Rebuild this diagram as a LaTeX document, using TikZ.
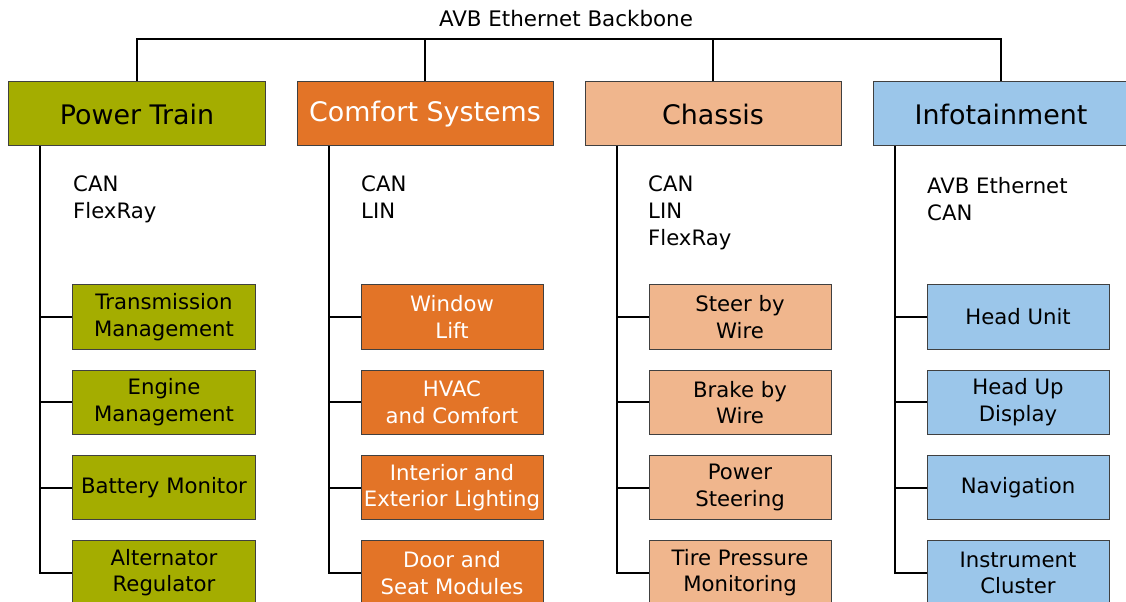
\documentclass[tikz,border=0pt]{standalone}
\usepackage{fontspec}
\setmainfont{DejaVu Sans}
\usetikzlibrary{positioning, calc}
\definecolor{ptgreen}{HTML}{A4AD00}
\definecolor{csorange}{HTML}{E37427}
\definecolor{chpeach}{HTML}{F0B68D}
\definecolor{infblue}{HTML}{9BC6EA}
\definecolor{boxgray}{HTML}{404040}

\begin{document}
\begin{tikzpicture}[
    x=1bp, y=-1bp,
    topbox/.style={
        draw=boxgray, rectangle, inner sep=0pt, line width=1bp,
        minimum width=256bp, minimum height=64bp,
        font=\fontsize{27}{32}\selectfont
    },
    subbox/.style={
        draw=boxgray, rectangle, inner sep=0pt, align=center, line width=1bp,
        minimum width=182bp, minimum height=64bp,
        font=\fontsize{21.3}{26.5}\selectfont
    },
    buslabel/.style={anchor=north west, align=left, inner sep=0pt,
        font=\fontsize{21.3}{27}\selectfont},
    wire/.style={line width=2bp},
    node distance=20.3bp and 31bp,
]
\clip (0,0) rectangle (1126,602);

\node[font=\fontsize{21.5}{25}\selectfont] (title) at (566,19) {AVB Ethernet Backbone};

% domain boxes
\node[topbox, fill=ptgreen] (pt) at (137,114) {Power Train};
\node[topbox, fill=csorange, text=white, right=of pt] (cs) {Comfort Systems};
\node[topbox, fill=chpeach, right=of cs] (ch) {Chassis};
\node[topbox, fill=infblue, right=of ch] (inf) {Infotainment};

% bus labels
\node[buslabel] (ptbus) at (73,176) {CAN\\FlexRay};
\node[buslabel] (csbus) at (361,176) {CAN\\LIN};
\node[buslabel] (chbus) at (648,176) {CAN\\LIN\\FlexRay};
\node[buslabel] (infbus) at (927,177) {AVB Ethernet\\CAN};

% ECUs
\node[subbox, fill=ptgreen] (tm) at (164,317) {Transmission\\Management};
\node[subbox, fill=ptgreen, below=of tm] (em) {Engine\\Management};
\node[subbox, fill=ptgreen, below=of em] (bm) {Battery Monitor};
\node[subbox, fill=ptgreen, below=of bm] (ar) {Alternator\\Regulator};

\node[subbox, fill=csorange, text=white] (wl) at (452,317) {Window\\Lift};
\node[subbox, fill=csorange, text=white, below=of wl] (hv) {HVAC\\and Comfort};
\node[subbox, fill=csorange, text=white, below=of hv] (il) {Interior and\\Exterior Lighting};
\node[subbox, fill=csorange, text=white, below=of il] (ds) {Door and\\Seat Modules};

\node[subbox, fill=chpeach] (sw) at (740,317) {Steer by\\Wire};
\node[subbox, fill=chpeach, below=of sw] (bw) {Brake by\\Wire};
\node[subbox, fill=chpeach, below=of bw] (ps) {Power\\Steering};
\node[subbox, fill=chpeach, below=of ps] (tp) {Tire Pressure\\Monitoring};

\node[subbox, fill=infblue] (hu) at (1018,317) {Head Unit};
\node[subbox, fill=infblue, below=of hu] (hd) {Head Up\\Display};
\node[subbox, fill=infblue, below=of hd] (nav) {Navigation};
\node[subbox, fill=infblue, below=of nav] (ic) {Instrument\\Cluster};

% backbone
\coordinate (bb) at (566,39);
\draw[wire] (pt.north) |- (bb) -| (inf.north);
\draw[wire] (cs.north) -- (cs.north |- bb);
\draw[wire] (ch.north) -- (ch.north |- bb);

% trunks and branches
\coordinate (pttr) at ($(pt.south west)+(32,0)$);
\coordinate (cstr) at ($(cs.south west)+(32,0)$);
\coordinate (chtr) at ($(ch.south west)+(32,0)$);
\coordinate (inftr) at ($(inf.south west)+(22,0)$);
\draw[wire] (pttr) |- (ar.west) (tm.west -| pttr) -- (tm.west)
    (em.west -| pttr) -- (em.west) (bm.west -| pttr) -- (bm.west);
\draw[wire] (cstr) |- (ds.west) (wl.west -| cstr) -- (wl.west)
    (hv.west -| cstr) -- (hv.west) (il.west -| cstr) -- (il.west);
\draw[wire] (chtr) |- (tp.west) (sw.west -| chtr) -- (sw.west)
    (bw.west -| chtr) -- (bw.west) (ps.west -| chtr) -- (ps.west);
\draw[wire] (inftr) |- (ic.west) (hu.west -| inftr) -- (hu.west)
    (hd.west -| inftr) -- (hd.west) (nav.west -| inftr) -- (nav.west);
\end{tikzpicture}
\end{document}
